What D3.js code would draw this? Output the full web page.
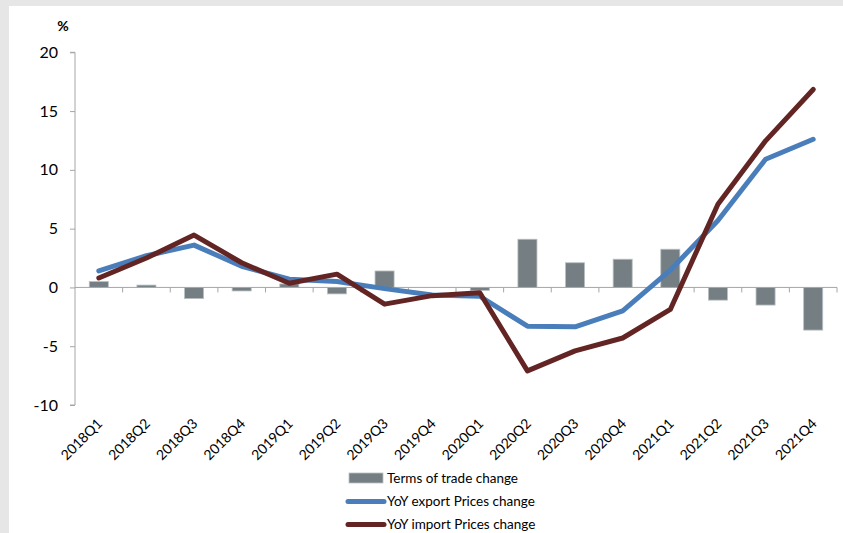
<!DOCTYPE html>
<html>
<head>
<meta charset="utf-8">
<script src="https://cdn.jsdelivr.net/npm/d3@7"></script>
<style>
  html, body { margin: 0; padding: 0; background: #e6e6e6; }
  svg { display: block; }
  text { font-family: Lato, "Liberation Sans", sans-serif; fill: #000; }
</style>
</head>
<body>
<svg id="chart" width="843" height="533"></svg>
<script>
// Quarterly price changes, %
const quarters = ["2018Q1","2018Q2","2018Q3","2018Q4","2019Q1","2019Q2","2019Q3","2019Q4",
                  "2020Q1","2020Q2","2020Q3","2020Q4","2021Q1","2021Q2","2021Q3","2021Q4"];
const termsOfTrade = [0.5, 0.2, -0.95, -0.3, 0.3, -0.55, 1.4, 0,
                      -0.25, 4.1, 2.1, 2.4, 3.25, -1.08, -1.5, -3.63];
const exportPrices = [1.4, 2.7, 3.6, 1.8, 0.7, 0.5, -0.1, -0.65,
                      -0.75, -3.3, -3.35, -2.0, 1.47, 5.7, 10.9, 12.6];
const importPrices = [0.8, 2.5, 4.45, 2.1, 0.35, 1.13, -1.42, -0.7,
                      -0.45, -7.1, -5.4, -4.3, -1.87, 7.08, 12.47, 16.84];
const yTicks = [-10, -5, 0, 5, 10, 15, 20];
const seriesNames = ["Terms of trade change", "YoY export Prices change", "YoY import Prices change"];

const colors = { bar: "#757f83", barEdge: "#b9c0c2", exp: "#4a7ebb", imp: "#632523", axis: "#a6a6a6" };

const svg = d3.select("#chart");

// white panel
svg.append("rect").attr("x", 9).attr("y", 6).attr("width", 834).attr("height", 527).attr("fill", "#fff");

const x = d3.scaleBand().domain(quarters).range([75, 837]).paddingInner(0).paddingOuter(0);
const y = d3.scaleLinear().domain([-10, 20]).range([405, 52.3]);
const cx = q => x(q) + x.bandwidth() / 2;

// bars
const barW = x.bandwidth() * 0.4;
svg.append("g").selectAll("rect").data(quarters).join("rect")
  .attr("x", q => cx(q) - barW / 2)
  .attr("y", (q, i) => y(Math.max(0, termsOfTrade[i])))
  .attr("width", barW)
  .attr("height", (q, i) => Math.abs(y(termsOfTrade[i]) - y(0)))
  .attr("fill", colors.bar)
  .attr("stroke", colors.barEdge)
  .attr("stroke-width", 0.8);

// y axis
const yAxis = svg.append("g").attr("transform", "translate(75,0)")
  .call(d3.axisLeft(y).tickValues(yTicks).tickSize(5).tickPadding(12).tickFormat(d => String(d)));
yAxis.select(".domain").attr("stroke", colors.axis).attr("d", `M-5,${y(20)}H0V${y(-10)}H-5`);
yAxis.selectAll(".tick line").attr("stroke", colors.axis);
yAxis.selectAll(".tick text").style("font-size", "16px").attr("fill", "#000");

// x axis along zero, ticks at category boundaries
const xg = svg.append("g");
xg.append("line").attr("x1", 75).attr("x2", 837).attr("y1", y(0)).attr("y2", y(0))
  .attr("stroke", colors.axis).attr("stroke-width", 1);
const bounds = quarters.map(q => x(q)).concat([x(quarters[quarters.length - 1]) + x.bandwidth()]);
xg.selectAll("line.tk").data(bounds.slice(1)).join("line").attr("class", "tk")
  .attr("x1", d => d).attr("x2", d => d).attr("y1", y(0)).attr("y2", y(0) + 5)
  .attr("stroke", colors.axis);

// category labels, rotated
svg.append("g").selectAll("text").data(quarters).join("text")
  .attr("transform", q => `translate(${cx(q) + 1},${421}) rotate(-45)`)
  .attr("text-anchor", "end")
  .attr("dy", "0.35em")
  .style("font-size", "14px")
  .text(q => q);

// lines
const line = d3.line().x((d, i) => cx(quarters[i])).y(d => y(d));
svg.append("path").datum(exportPrices).attr("d", line)
  .attr("fill", "none").attr("stroke", colors.exp).attr("stroke-width", 5)
  .attr("stroke-linejoin", "round").attr("stroke-linecap", "round");
svg.append("path").datum(importPrices).attr("d", line)
  .attr("fill", "none").attr("stroke", colors.imp).attr("stroke-width", 5)
  .attr("stroke-linejoin", "round").attr("stroke-linecap", "round");

// unit label
svg.append("text").attr("x", 63).attr("y", 31).attr("text-anchor", "middle")
  .style("font-size", "14px").style("font-weight", "bold").text("%");

// legend
const lg = svg.append("g");
const rowY = [478, 501.5, 524.5];
lg.append("rect").attr("x", 349).attr("y", rowY[0] - 5).attr("width", 34).attr("height", 10)
  .attr("fill", colors.bar).attr("stroke", colors.barEdge).attr("stroke-width", 0.8);
lg.append("line").attr("x1", 348).attr("x2", 384).attr("y1", rowY[1]).attr("y2", rowY[1])
  .attr("stroke", colors.exp).attr("stroke-width", 5).attr("stroke-linecap", "round");
lg.append("line").attr("x1", 348).attr("x2", 384).attr("y1", rowY[2]).attr("y2", rowY[2])
  .attr("stroke", colors.imp).attr("stroke-width", 5).attr("stroke-linecap", "round");
lg.selectAll("text").data(seriesNames).join("text")
  .attr("x", 387).attr("y", (d, i) => rowY[i]).attr("dy", "0.35em")
  .style("font-size", "13.5px").text(d => d);
</script>
</body>
</html>
